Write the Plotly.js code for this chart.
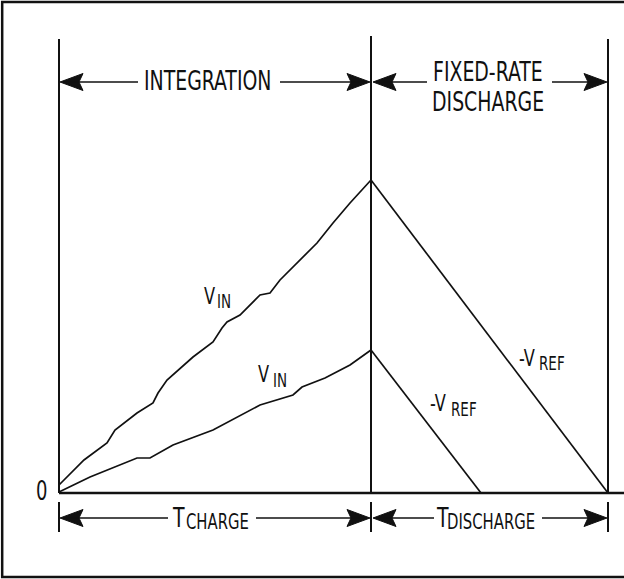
<!DOCTYPE html>
<html>
<head>
<meta charset="utf-8">
<script src="https://cdn.plot.ly/plotly-3.0.1.min.js"></script>
<style>html,body{margin:0;padding:0;background:#fff;}#chart{width:624px;height:579px;}</style>
</head>
<body>
<div id="chart"></div>
<script>
// Time axis (t) and integrator output (v)
const phaseBounds = [0, 312, 549];          // start, end of T_CHARGE, end of T_DISCHARGE (large input)

const upperChargeT = [0, 25, 48, 56, 78, 94, 99, 108, 134, 154, 163, 168, 181, 194, 201, 211, 221, 258, 274, 291, 312];
const upperChargeV = [8, 33, 50, 63, 80, 90, 100, 113, 136, 151, 165, 171, 178, 191, 198, 200, 213, 250, 270, 290, 313];

const lowerChargeT = [0, 31, 78, 91, 114, 154, 201, 234, 243, 266, 291, 312];
const lowerChargeV = [1, 16, 35, 35, 48, 63, 88, 98, 106, 115, 128, 143];

const upperDischargeT = [312, 549];
const upperDischargeV = [313, 0];

const lowerDischargeT = [312, 422];
const lowerDischargeV = [143, 0];

const phaseLabelsTop = ["INTEGRATION", "FIXED-RATE", "DISCHARGE"];
const phaseLabelsBottom = [["T", "CHARGE"], ["T", "DISCHARGE"]];
const zeroLabel = "0";

// ---- layout helpers ----
const INK = "#111";
const FONT = "DejaVu Sans Condensed, Liberation Sans Narrow, sans-serif";
const topRowV = 411, botRowV = -25;

function line(x0, y0, x1, y1, w) {
  return {type: "line", xref: "x", yref: "y", x0, y0, x1, y1, line: {color: INK, width: w || 1.6}};
}
function head(tip, dir, y) {
  // dir = +1 pointing right, -1 pointing left
  const L = 23, H = 8.5, n = 4;
  const b = tip - dir * L;
  return {type: "path", xref: "x", yref: "y",
    path: `M${tip},${y} L${b},${y + H} L${b + dir * n},${y} L${b},${y - H} Z`,
    fillcolor: INK, line: {color: INK, width: 1}};
}
function dimArrow(xa, xb, gapA, gapB, y) {
  const a = xa + 1, b = xb - 1;
  return [
    head(a, -1, y), line(a + 10, y, gapA, y),
    head(b, 1, y), line(gapB, y, b - 10, y)
  ];
}

const shapes = [];
// outer frame (open on the right)
shapes.push({type: "path", xref: "paper", yref: "paper",
  path: "M1.2,0.9965 L0.0035,0.9965 L0.0035,0.0035 L1.2,0.0035",
  line: {color: INK, width: 2.5}});
// baseline
shapes.push(line(phaseBounds[0], 0, 566, 0, 2.5));
// phase boundaries
phaseBounds.forEach((t, i) => {
  shapes.push(line(t, 0, t, i === 1 ? 457 : 454, 2));
  shapes.push(line(t, -9, t, -39, 2));
});
// dimension arrows
shapes.push(...dimArrow(phaseBounds[0], phaseBounds[1], 79, 221, topRowV));
shapes.push(...dimArrow(phaseBounds[1] + 1, phaseBounds[2], 368, 493, topRowV));
shapes.push(...dimArrow(phaseBounds[0], phaseBounds[1], 109, 197, botRowV));
shapes.push(...dimArrow(phaseBounds[1] + 1, phaseBounds[2], 375, 483, botRowV));

function ann(text, x, y, size, extra) {
  return Object.assign({text, x, y, xref: "x", yref: "y", showarrow: false,
    font: {family: FONT, size: size, color: INK}, xanchor: "center", yanchor: "middle"}, extra || {});
}
const annotations = [
  ann(phaseLabelsTop[0], 148, topRowV + 1, 21),
  ann(phaseLabelsTop[1], 429, 421, 21),
  ann(phaseLabelsTop[2], 429, 391, 21),
  ann(phaseLabelsBottom[0][0], 119, botRowV, 21),
  ann(phaseLabelsBottom[0][1], 158, botRowV - 3, 16.5),
  ann(phaseLabelsBottom[1][0], 383, botRowV, 21),
  ann(phaseLabelsBottom[1][1], 432, botRowV - 3, 16.5),
  ann(zeroLabel, -17.5, 2, 20),
  // V_IN labels
  ann("V", 150, 198, 18), ann("IN", 165, 191, 15),
  ann("V", 204, 120, 18), ann("IN", 221, 112, 15),
  // -V_REF labels
  ann("-V", 468, 136, 18), ann("REF", 493, 129, 15),
  ann("-V", 379, 91, 18), ann("REF", 405, 83, 15)
];

const lineStyle = {color: INK, width: 1.7};
const data = [
  {x: upperChargeT, y: upperChargeV, mode: "lines", line: lineStyle, hoverinfo: "skip"},
  {x: lowerChargeT, y: lowerChargeV, mode: "lines", line: lineStyle, hoverinfo: "skip"},
  {x: upperDischargeT, y: upperDischargeV, mode: "lines", line: lineStyle, hoverinfo: "skip"},
  {x: lowerDischargeT, y: lowerDischargeV, mode: "lines", line: lineStyle, hoverinfo: "skip"}
];

const layout = {
  width: 624, height: 579,
  margin: {l: 0, r: 0, t: 0, b: 0, pad: 0},
  paper_bgcolor: "#fff", plot_bgcolor: "#fff",
  showlegend: false,
  xaxis: {range: [-59, 565], visible: false, fixedrange: true},
  yaxis: {range: [-86, 493], visible: false, fixedrange: true},
  shapes, annotations
};
Plotly.newPlot("chart", data, layout, {staticPlot: true, displayModeBar: false}).then(gd => {
  // the original lettering is tall and narrow: stretch each label vertically about its centre
  gd.querySelectorAll("text.annotation-text").forEach(t => {
    const b = t.getBBox();
    const cy = b.y + b.height / 2;
    t.setAttribute("transform", `translate(0,${cy}) scale(1,1.3) translate(0,${-cy})`);
  });
});
</script>
</body>
</html>
